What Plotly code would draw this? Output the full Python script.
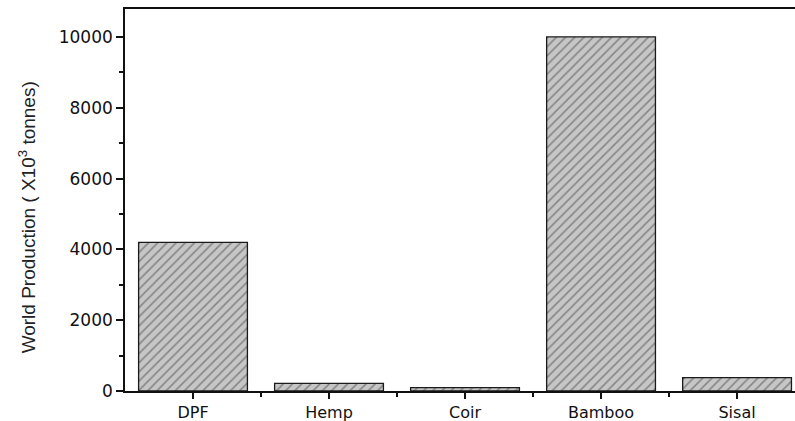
import plotly.graph_objects as go

# World production of natural fibres (thousand tonnes)
fibres = ["DPF", "Hemp", "Coir", "Bamboo", "Sisal"]
production = [4200, 215, 95, 10000, 375]
y_ticks = [0, 2000, 4000, 6000, 8000, 10000]

positions = list(range(len(fibres)))

fig = go.Figure(
    go.Bar(
        x=positions,
        y=production,
        width=0.8,
        marker=dict(
            color="#c6c6c6",
            line=dict(color="#1a1a1a", width=1.3),
            pattern=dict(shape="/", fgcolor="#444444", bgcolor="#c6c6c6",
                         size=6.5, solidity=0.25, fillmode="overlay"),
        ),
        showlegend=False,
    )
)

y_font = dict(family="DejaVu Sans, Arial, sans-serif", size=17, color="#111")
x_font = dict(family="DejaVu Sans, Arial, sans-serif", size=16, color="#111")

fig.update_layout(
    width=795,
    height=421,
    margin=dict(l=125, r=0, t=9, b=30, autoexpand=False),
    paper_bgcolor="white",
    plot_bgcolor="white",
    xaxis=dict(
        automargin=False,
        range=[-0.5, 4.426],
        tickmode="array",
        tickvals=positions,
        ticktext=fibres,
        ticks="outside",
        ticklen=6,
        tickwidth=1.5,
        tickcolor="#111",
        ticklabelstandoff=0,
        showline=True,
        linecolor="#111",
        linewidth=1.6,
        mirror=True,
        showgrid=False,
        zeroline=False,
        tickfont=x_font,
        minor=dict(tickmode="array", tickvals=[p + 0.5 for p in positions],
                   ticks="outside", ticklen=4, tickwidth=1.5, tickcolor="#111",
                   showgrid=False),
    ),
    yaxis=dict(
        automargin=False,
        range=[0, 10790],
        tickmode="array",
        tickvals=y_ticks,
        ticktext=[str(v) for v in y_ticks],
        ticks="outside",
        ticklen=7,
        tickwidth=1.5,
        tickcolor="#111",
        showline=True,
        linecolor="#111",
        linewidth=1.6,
        mirror=False,
        showgrid=False,
        zeroline=False,
        tickfont=y_font,
        minor=dict(dtick=1000, ticks="outside", ticklen=4, tickwidth=1.5,
                   tickcolor="#111", showgrid=False),
    ),
    annotations=[
        dict(
            text="World Production ( X10<sup>3</sup> tonnes)",
            textangle=-90,
            xref="paper", yref="paper",
            x=-0.146, y=0.455,
            xanchor="center", yanchor="middle",
            showarrow=False,
            font=dict(family="Liberation Sans Narrow, Arial Narrow, sans-serif",
                      size=19, color="#222"),
        )
    ],
)

fig.write_html("out.html")
